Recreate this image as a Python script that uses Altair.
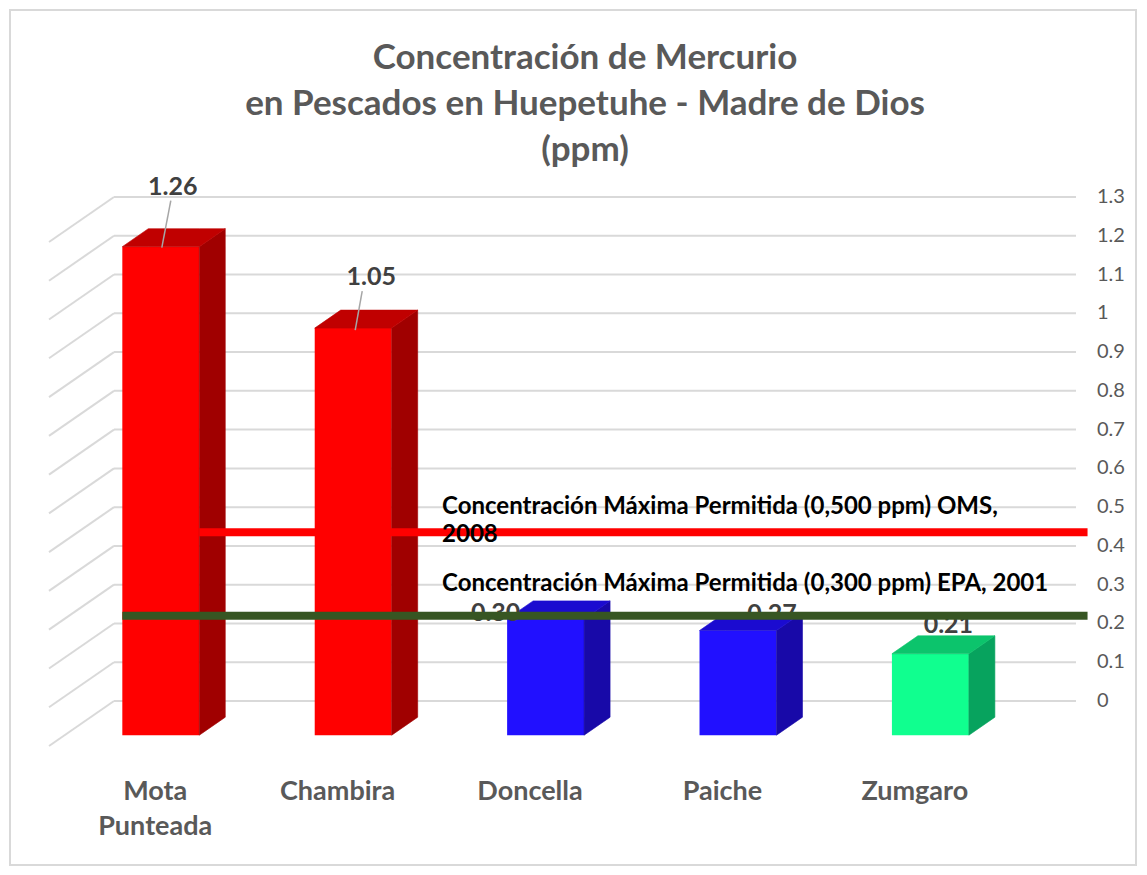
import altair as alt
import pandas as pd

# ---------------- data ----------------
categories = ["Mota\nPunteada", "Chambira", "Doncella", "Paiche", "Zumgaro"]
values = [1.26, 1.05, 0.30, 0.27, 0.21]
value_labels = ["1.26", "1.05", "0.30", "0.27", "0.21"]
limit_values = [0.5, 0.3]
limit_labels = [
    "Concentración Máxima Permitida (0,500 ppm) OMS,\n2008",
    "Concentración Máxima Permitida (0,300 ppm) EPA, 2001",
]
tick_values = [0, 0.1, 0.2, 0.3, 0.4, 0.5, 0.6, 0.7, 0.8, 0.9, 1.0, 1.1, 1.2, 1.3]
tick_labels = ["0", "0.1", "0.2", "0.3", "0.4", "0.5", "0.6", "0.7", "0.8", "0.9",
               "1", "1.1", "1.2", "1.3"]
title_lines = [
    "Concentración de Mercurio",
    "en Pescados en Huepetuhe - Madre de Dios",
    "(ppm)",
]

# ---------------- styles ----------------
FRONT = ["#FF0000", "#FF0000", "#2110FF", "#2110FF", "#10FF8F"]
TOP = ["#C00000", "#C00000", "#1B0BD0", "#1B0BD0", "#0CC46C"]
SIDE = ["#A00000", "#A00000", "#1809A8", "#1809A8", "#07A35E"]
LIMIT_COLORS = ["#FF0000", "#375623"]
FONT = "Lato"
GRID = "#d9d9d9"

W, H = 1126, 855                 # plot = chart border box
PX_U, PX_V = 192.4, 387.7        # pixels per category unit / per ppm
ORIGIN_X, ORIGIN_Y = 104, 691    # back-wall origin inside the plot (px)
DEPTH_X, DEPTH_Y = -65.0, 45.0   # oblique 3D projection of full depth (px)
F_FRONT, F_BACK = 0.76, 0.36     # depth of bar front / back faces
F_LIMIT = [25 / 45, 31 / 45]     # depth of the limit lines
HALF_W = 0.2
N = len(categories)
LINE_END = N + 0.06
LABEL_U = 1.705

XDOM = [-ORIGIN_X / PX_U, (W - ORIGIN_X) / PX_U]
YDOM = [(ORIGIN_Y - H) / PX_V, ORIGIN_Y / PX_V]


def du(f):
    return DEPTH_X * f / PX_U


def dv(f):
    return -DEPTH_Y * f / PX_V


xs = alt.Scale(domain=XDOM, nice=False, zero=False)
ys = alt.Scale(domain=YDOM, nice=False, zero=False)


def X(field):
    return alt.X(field, scale=xs, axis=None)


def Y(field):
    return alt.Y(field, scale=ys, axis=None)


# ---------------- geometry tables ----------------
grid_df = pd.DataFrame({"t": tick_values, "lab": tick_labels})
grid_df["x0"] = 0.0
grid_df["x1"] = float(N)
grid_df["xw"] = du(1)
grid_df["t2"] = grid_df["t"] + dv(1)

front_rows, poly_rows, lab_rows = [], [], []
for i, v in enumerate(values):
    c = i + 0.5
    xl_f, xr_f = c - HALF_W + du(F_FRONT), c + HALF_W + du(F_FRONT)
    xl_b, xr_b = c - HALF_W + du(F_BACK), c + HALF_W + du(F_BACK)
    yf, yb = dv(F_FRONT), dv(F_BACK)
    front_rows.append(dict(xl=xl_f, xr=xr_f, y0=yf, y1=v + yf, fill=FRONT[i]))
    poly_rows += [
        dict(poly=f"s{i}", x=xr_f, y=v + yf, y2=yf, fill=SIDE[i]),
        dict(poly=f"s{i}", x=xr_b, y=v + yb, y2=yb, fill=SIDE[i]),
    ]
    poly_rows += [
        dict(poly=f"t{i}", x=xl_f, y=v + yf, y2=v + yf, fill=TOP[i]),
        dict(poly=f"t{i}", x=xl_b, y=v + yb, y2=v + yf, fill=TOP[i]),
        dict(poly=f"t{i}", x=xr_f, y=v + yb, y2=v + yf, fill=TOP[i]),
        dict(poly=f"t{i}", x=xr_b, y=v + yb, y2=v + yb, fill=TOP[i]),
    ]
    lab_rows.append(dict(cat=categories[i], lab=value_labels[i], x=c + du(F_FRONT),
                         y=v + yf, xc=c + du(1), yc=dv(1)))

front_df = pd.DataFrame(front_rows)
poly_df = pd.DataFrame(poly_rows)
lab_df = pd.DataFrame(lab_rows)

limit_df = pd.DataFrame({
    "value": limit_values,
    "label": limit_labels,
    "y": [limit_values[k] + dv(F_LIMIT[k]) for k in range(2)],
    "x0": [0.5 + HALF_W + du(F_FRONT), 0.5 - HALF_W + du(F_FRONT)],
    "x1": [LINE_END, LINE_END],
    "xl": [LABEL_U, LABEL_U],
})

# ---------------- layers ----------------
grid = alt.Chart(grid_df).mark_rule(color=GRID, strokeWidth=2).encode(
    x=X("x0:Q"), x2="x1:Q", y=Y("t:Q"),
)
wall = alt.Chart(grid_df).mark_rule(color=GRID, strokeWidth=2).encode(
    x=X("x0:Q"), x2="xw:Q", y=Y("t:Q"), y2="t2:Q",
)
ticks = alt.Chart(grid_df).mark_text(
    align="left", baseline="middle", dx=21, font=FONT, fontSize=20, color="#595959",
).encode(x=X("x1:Q"), y=Y("t:Q"), text="lab:N")

fronts = alt.Chart(front_df).mark_rect().encode(
    x=X("xl:Q"), x2="xr:Q", y=Y("y0:Q"), y2="y1:Q",
    color=alt.Color("fill:N", scale=None),
)
faces = alt.Chart(poly_df).mark_area(strokeWidth=0.6).encode(
    x=X("x:Q"), y=Y("y:Q"), y2="y2:Q",
    detail="poly:N",
    color=alt.Color("fill:N", scale=None),
    stroke=alt.Stroke("fill:N", scale=None),
)


def limit_line(k):
    return alt.Chart(limit_df.iloc[[k]]).mark_rule(color=LIMIT_COLORS[k], strokeWidth=8).encode(
        x=X("x0:Q"), x2="x1:Q", y=Y("y:Q"),
    )


def limit_text(k, dy):
    return alt.Chart(limit_df.iloc[[k]]).mark_text(
        align="left", baseline="alphabetic", dy=dy, lineBreak="\n", lineHeight=28,
        font=FONT, fontWeight="bold", fontSize=24, color="#000000",
    ).encode(x=X("xl:Q"), y=Y("value:Q"), text="label:N")


LABEL_OFFSETS = [(12, -60), (18, -51), (-50, -6), (34, -17), (18, -29)]


def value_text(i):
    ddx, ddy = LABEL_OFFSETS[i]
    return alt.Chart(lab_df.iloc[[i]]).mark_text(
        dx=ddx, dy=ddy, baseline="middle", font=FONT, fontWeight="bold",
        fontSize=25, color="#404040",
    ).encode(x=X("x:Q"), y=Y("y:Q"), text="lab:N")


LEADERS = [(1, 1, 10, -46), (2, 2, 9, -37)]
leaders = []
for i, (ox, oy, ox2, oy2) in enumerate(LEADERS):
    leaders.append(alt.Chart(lab_df.iloc[[i]]).mark_rule(
        color="#a6a6a6", strokeWidth=1.5, xOffset=ox, yOffset=oy, x2Offset=ox2, y2Offset=oy2,
    ).encode(x=X("x:Q"), x2="x:Q", y=Y("y:Q"), y2="y:Q"))

CAT_DX = [10, 0, 0, 0, 0]
cat_texts = []
for i in range(N):
    cat_texts.append(alt.Chart(lab_df.iloc[[i]]).mark_text(
        align="center", baseline="alphabetic", dx=CAT_DX[i], dy=54, lineBreak="\n",
        lineHeight=35, font=FONT, fontWeight="bold", fontSize=27, color="#595959",
    ).encode(x=X("xc:Q"), y=Y("yc:Q"), text="cat:N"))

chart = alt.layer(
    grid, wall, ticks,
    value_text(3),            # Paiche label sits behind its bar top
    fronts, faces,
    limit_line(0), limit_text(0, 7), limit_text(1, 6),
    *leaders, value_text(0), value_text(1), value_text(2), value_text(4),
    *cat_texts,
    limit_line(1),
).properties(
    width=W, height=H,
    autosize=alt.AutoSizeParams(type="none"),
    padding={"left": 2, "top": 2, "right": 2, "bottom": 2},
    title=alt.TitleParams(
        text=title_lines, font=FONT, fontSize=35, fontWeight="bold", color="#595959",
        anchor="middle", frame="group", baseline="top", offset=-158, lineHeight=46, dx=12,
    ),
).configure_view(stroke=GRID, strokeWidth=2)

chart.save("out.html", embed_options={"renderer": "svg", "actions": False})
